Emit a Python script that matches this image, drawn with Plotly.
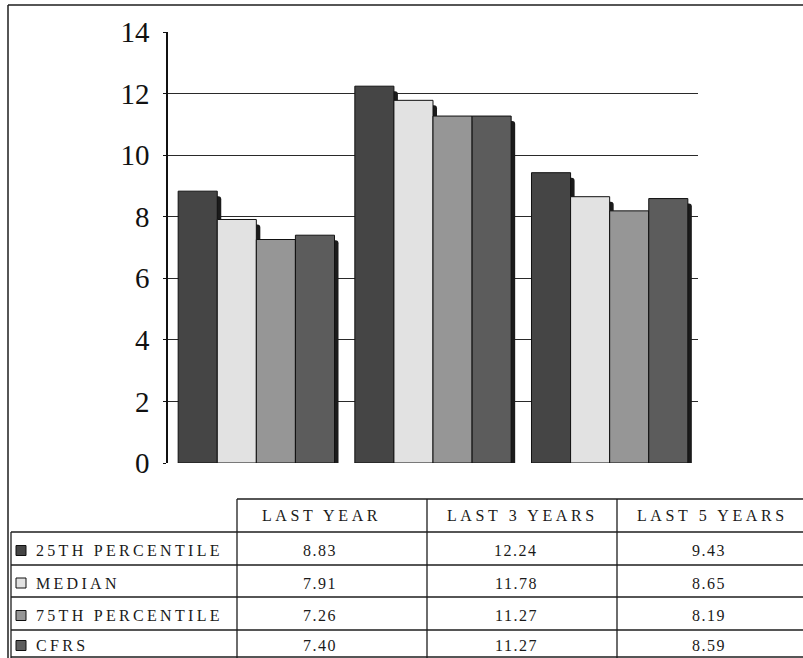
import plotly.graph_objects as go

# ---- data -------------------------------------------------------------
periods = ["LAST YEAR", "LAST 3 YEARS", "LAST 5 YEARS"]
series_names = ["25TH PERCENTILE", "MEDIAN", "75TH PERCENTILE", "CFRS"]
p25 = [8.83, 12.24, 9.43]
median = [7.91, 11.78, 8.65]
p75 = [7.26, 11.27, 8.19]
cfrs = [7.40, 11.27, 8.59]
y_ticks = [0, 2, 4, 6, 8, 10, 12, 14]

series_values = [p25, median, p75, cfrs]
series_colors = ["#454545", "#e2e2e2", "#969696", "#5c5c5c"]

# ---- page geometry (pixels) ------------------------------------------
W, H = 803, 658
plot_left, plot_right = 168, 698
plot_top, plot_bottom = 32, 463
y_max = 14

px_per_cat = (plot_right - plot_left) / 3.0
px_per_unit = (plot_bottom - plot_top) / y_max
shift_x = 4 / px_per_cat      # depth offset of the dark side faces
shift_y = 5 / px_per_unit


def fx(px):
    return px / W


def fy(py):
    return 1 - py / H


fig = go.Figure()

# dark "depth" faces behind each bar (base axes, shifted right and down)
for name, vals in zip(series_names, series_values):
    fig.add_trace(go.Bar(
        x=periods, y=vals, name=name + " depth",
        marker=dict(color="#1b1b1b", line=dict(width=0), cornerradius=3),
        xaxis="x", yaxis="y", cliponaxis=False,
        showlegend=False, hoverinfo="skip",
    ))

# front faces
for name, vals, col in zip(series_names, series_values, series_colors):
    fig.add_trace(go.Bar(
        x=periods, y=vals, name=name,
        marker=dict(color=col, line=dict(width=1, color="#111111")),
        xaxis="x2", yaxis="y2",
        showlegend=False,
    ))

# ---- data table drawn under the chart ---------------------------------
line_col = "#1e1e1e"
shapes = []


def hline(y, x0, x1, w=1.3):
    shapes.append(dict(type="line", xref="paper", yref="paper",
                       x0=fx(x0), x1=fx(x1), y0=fy(y), y1=fy(y),
                       line=dict(color=line_col, width=w)))


def vline(x, y0, y1, w=1.3):
    shapes.append(dict(type="line", xref="paper", yref="paper",
                       x0=fx(x), x1=fx(x), y0=fy(y0), y1=fy(y1),
                       line=dict(color=line_col, width=w)))


# outer frame
hline(5, 8, W, 1.5)
vline(8, 5, H, 1.5)

row_lines = [532, 565, 597, 630, 657]
col_lines = [237, 427, 617]
hline(499, 237, W)
for ry in row_lines:
    hline(ry, 11, W)
vline(11, 532, H)
for cx in col_lines:
    vline(cx, 499, H)

header_cx = [321, 522, 712]
value_cx = [320, 516, 709]
row_cy = [(row_lines[i] + row_lines[i + 1]) / 2 + 2 for i in range(4)]

txt_font = dict(family="Liberation Serif, DejaVu Serif, serif", size=16, color="#1a1a1a")
annotations = []


def spaced(s, px=3.5):
    return '<span style="letter-spacing:%spx">%s</span>' % (px, s)


for cx, label in zip(header_cx, periods):
    annotations.append(dict(xref="paper", yref="paper", x=fx(cx), y=fy(515),
                            text=spaced(label, 3.6), showarrow=False, font=txt_font,
                            xanchor="center", yanchor="middle"))

for i, (name, vals, col) in enumerate(zip(series_names, series_values, series_colors)):
    cy = row_cy[i]
    annotations.append(dict(xref="paper", yref="paper", x=fx(34), y=fy(cy),
                            text=spaced(name, 3.3), showarrow=False, font=txt_font,
                            xanchor="left", yanchor="middle"))
    # legend key square
    shapes.append(dict(type="rect", xref="paper", yref="paper",
                       x0=fx(16), x1=fx(26), y0=fy(cy - 5), y1=fy(cy + 5),
                       fillcolor=col, line=dict(color="#111111", width=1)))
    for cx, v in zip(value_cx, vals):
        annotations.append(dict(xref="paper", yref="paper", x=fx(cx), y=fy(cy),
                                text=spaced("%.2f" % v, 1.5), showarrow=False,
                                font=txt_font, xanchor="center", yanchor="middle"))

fig.update_layout(
    width=W, height=H, autosize=False,
    margin=dict(l=0, r=0, t=0, b=0, pad=0),
    paper_bgcolor="white", plot_bgcolor="white",
    barmode="group", bargap=0.115, bargroupgap=0,
    showlegend=False,
    xaxis=dict(domain=[fx(plot_left), fx(plot_right)],
               range=[-0.5 - shift_x, 2.5 - shift_x], visible=False,
               automargin=False),
    yaxis=dict(domain=[fy(plot_bottom), fy(plot_top)],
               range=[shift_y, y_max + shift_y], visible=False,
               automargin=False),
    xaxis2=dict(overlaying="x", anchor="y2", range=[-0.5, 2.5],
                showgrid=False, showticklabels=False, ticks="", showline=False,
                zeroline=False, automargin=False),
    yaxis2=dict(overlaying="y", anchor="x2", side="left", range=[0, y_max],
                tickvals=y_ticks, showgrid=True, gridcolor="#2a2a2a", gridwidth=1,
                zeroline=False, showline=True, linecolor="#111111", linewidth=1.5,
                ticks="outside", ticklen=3, tickcolor="#111111",
                ticklabelstandoff=8, automargin=False,
                tickfont=dict(family="Liberation Serif, DejaVu Serif, serif",
                              size=29, color="#111111")),
    shapes=shapes,
    annotations=annotations,
)

fig.write_html("out.html")
